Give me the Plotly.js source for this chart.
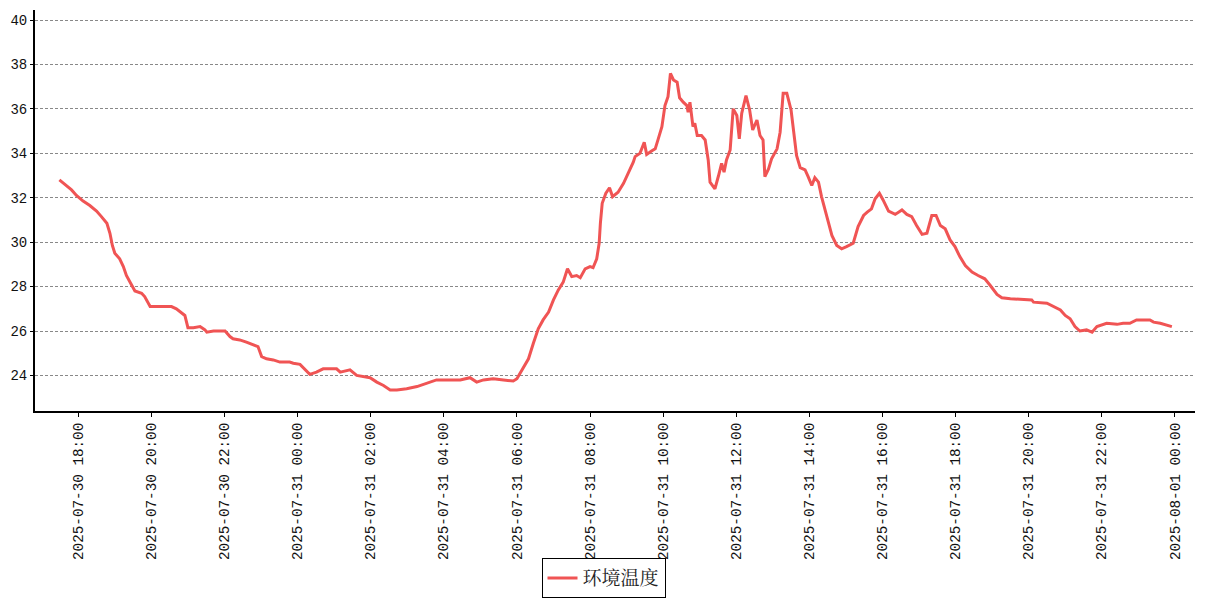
<!DOCTYPE html>
<html>
<head>
<meta charset="utf-8">
<script src="https://cdn.plot.ly/plotly-3.0.1.min.js"></script>
<style>
html,body{margin:0;padding:0;background:#fff;}
#chart{width:1207px;height:600px;}
</style>
</head>
<body>
<div id="chart"></div>
<script>
const seriesName = '环境温度';
const times = [
'2025-07-30 17:29','2025-07-30 17:38','2025-07-30 17:49','2025-07-30 17:57','2025-07-30 18:08','2025-07-30 18:19','2025-07-30 18:30','2025-07-30 18:38','2025-07-30 18:47','2025-07-30 18:52',
'2025-07-30 18:56','2025-07-30 19:00','2025-07-30 19:08','2025-07-30 19:14','2025-07-30 19:19','2025-07-30 19:26','2025-07-30 19:33','2025-07-30 19:44','2025-07-30 19:49','2025-07-30 19:58',
'2025-07-30 20:14','2025-07-30 20:33','2025-07-30 20:41','2025-07-30 20:50','2025-07-30 20:55','2025-07-30 21:00','2025-07-30 21:09','2025-07-30 21:20','2025-07-30 21:28','2025-07-30 21:31',
'2025-07-30 21:42','2025-07-30 22:01','2025-07-30 22:09','2025-07-30 22:14','2025-07-30 22:25','2025-07-30 22:36','2025-07-30 22:47','2025-07-30 22:55','2025-07-30 23:01','2025-07-30 23:09',
'2025-07-30 23:20','2025-07-30 23:31','2025-07-30 23:47','2025-07-30 23:53','2025-07-31 00:04','2025-07-31 00:12','2025-07-31 00:20','2025-07-31 00:31','2025-07-31 00:42','2025-07-31 01:04',
'2025-07-31 01:10','2025-07-31 01:26','2025-07-31 01:37','2025-07-31 01:59','2025-07-31 02:10','2025-07-31 02:21','2025-07-31 02:32','2025-07-31 02:43','2025-07-31 02:59','2025-07-31 03:16',
'2025-07-31 03:32','2025-07-31 03:48','2025-07-31 04:10','2025-07-31 04:27','2025-07-31 04:43','2025-07-31 04:54','2025-07-31 05:05','2025-07-31 05:21','2025-07-31 05:38','2025-07-31 05:54',
'2025-07-31 06:00','2025-07-31 06:08','2025-07-31 06:19','2025-07-31 06:27','2025-07-31 06:35','2025-07-31 06:43','2025-07-31 06:52','2025-07-31 07:00','2025-07-31 07:08','2025-07-31 07:16',
'2025-07-31 07:23','2025-07-31 07:30','2025-07-31 07:38','2025-07-31 07:44','2025-07-31 07:52','2025-07-31 08:00','2025-07-31 08:05','2025-07-31 08:11','2025-07-31 08:15','2025-07-31 08:17',
'2025-07-31 08:20','2025-07-31 08:26','2025-07-31 08:32','2025-07-31 08:37','2025-07-31 08:46','2025-07-31 08:55','2025-07-31 09:03','2025-07-31 09:11','2025-07-31 09:14','2025-07-31 09:22',
'2025-07-31 09:29','2025-07-31 09:33','2025-07-31 09:41','2025-07-31 09:47','2025-07-31 09:52','2025-07-31 09:58','2025-07-31 10:03','2025-07-31 10:08','2025-07-31 10:12','2025-07-31 10:17',
'2025-07-31 10:23','2025-07-31 10:27','2025-07-31 10:33','2025-07-31 10:39','2025-07-31 10:41','2025-07-31 10:44','2025-07-31 10:49','2025-07-31 10:52','2025-07-31 10:56','2025-07-31 11:03',
'2025-07-31 11:09','2025-07-31 11:14','2025-07-31 11:17','2025-07-31 11:25','2025-07-31 11:31','2025-07-31 11:36','2025-07-31 11:40','2025-07-31 11:44','2025-07-31 11:50','2025-07-31 11:55',
'2025-07-31 12:01','2025-07-31 12:05','2025-07-31 12:09','2025-07-31 12:16','2025-07-31 12:22','2025-07-31 12:27','2025-07-31 12:34','2025-07-31 12:39','2025-07-31 12:44','2025-07-31 12:47',
'2025-07-31 12:53','2025-07-31 12:58','2025-07-31 13:07','2025-07-31 13:12','2025-07-31 13:17','2025-07-31 13:23','2025-07-31 13:30','2025-07-31 13:34','2025-07-31 13:39','2025-07-31 13:45',
'2025-07-31 13:53','2025-07-31 13:58','2025-07-31 14:04','2025-07-31 14:09','2025-07-31 14:15','2025-07-31 14:20','2025-07-31 14:29','2025-07-31 14:37','2025-07-31 14:45','2025-07-31 14:53',
'2025-07-31 15:01','2025-07-31 15:12','2025-07-31 15:20','2025-07-31 15:29','2025-07-31 15:35','2025-07-31 15:42','2025-07-31 15:48','2025-07-31 15:55','2025-07-31 16:01','2025-07-31 16:10',
'2025-07-31 16:21','2025-07-31 16:32','2025-07-31 16:40','2025-07-31 16:48','2025-07-31 16:56','2025-07-31 17:05','2025-07-31 17:13','2025-07-31 17:21','2025-07-31 17:28','2025-07-31 17:35',
'2025-07-31 17:43','2025-07-31 17:51','2025-07-31 17:59','2025-07-31 18:07','2025-07-31 18:16','2025-07-31 18:27','2025-07-31 18:37','2025-07-31 18:48','2025-07-31 18:57','2025-07-31 19:08',
'2025-07-31 19:16','2025-07-31 19:30','2025-07-31 20:05','2025-07-31 20:08','2025-07-31 20:30','2025-07-31 20:41','2025-07-31 20:52','2025-07-31 21:00','2025-07-31 21:08','2025-07-31 21:16',
'2025-07-31 21:24','2025-07-31 21:35','2025-07-31 21:44','2025-07-31 21:52','2025-07-31 22:08','2025-07-31 22:25','2025-07-31 22:35','2025-07-31 22:46','2025-07-31 22:57','2025-07-31 23:19',
'2025-07-31 23:25','2025-07-31 23:36','2025-07-31 23:47','2025-07-31 23:55'
];
const temps = [
32.8,32.6,32.35,32.1,31.85,31.65,31.4,31.15,30.85,30.4,
29.85,29.5,29.25,28.9,28.5,28.15,27.8,27.7,27.55,27.1,
27.1,27.1,27.0,26.8,26.7,26.15,26.15,26.2,26.05,25.95,
26.0,26.0,25.75,25.65,25.6,25.5,25.4,25.3,24.85,24.75,
24.7,24.6,24.6,24.55,24.5,24.25,24.05,24.15,24.3,24.3,
24.15,24.25,24.0,23.9,23.7,23.55,23.35,23.35,23.4,23.5,
23.65,23.8,23.8,23.8,23.9,23.7,23.8,23.85,23.8,23.75,
23.85,24.25,24.75,25.45,26.1,26.5,26.85,27.4,27.85,28.2,
28.8,28.45,28.5,28.4,28.8,28.9,28.85,29.25,29.95,30.85,
31.75,32.2,32.45,32.05,32.25,32.65,33.1,33.6,33.85,34.0,
34.5,33.95,34.1,34.2,34.65,35.2,36.15,36.55,37.6,37.3,
37.2,36.5,36.3,36.15,35.85,36.3,35.2,35.35,34.8,34.8,
34.6,33.7,32.7,32.4,33.0,33.55,33.15,33.7,34.15,36.0,
35.7,34.65,35.8,36.6,35.95,35.05,35.5,34.8,34.6,32.95,
33.3,33.75,34.2,34.95,36.7,36.7,35.95,35.1,33.9,33.35,
33.25,32.95,32.55,32.9,32.7,32.05,31.15,30.3,29.85,29.7,
29.8,29.95,30.7,31.2,31.35,31.5,31.95,32.2,31.9,31.4,
31.25,31.45,31.25,31.15,30.75,30.35,30.4,31.2,31.2,30.75,
30.6,30.1,29.8,29.35,28.95,28.65,28.5,28.35,28.05,27.65,
27.5,27.45,27.4,27.3,27.25,27.1,26.95,26.7,26.55,26.2,
26.0,26.05,25.95,26.2,26.35,26.3,26.35,26.35,26.5,26.5,
26.4,26.35,26.25,26.2
];

const monoFamily = '"Liberation Mono", "DejaVu Sans Mono", monospace';

const trace = {
  x: times, y: temps, type: 'scatter', mode: 'lines', name: seriesName,
  line: {color: '#F05454', width: 3}
};

const layout = {
  width: 1207, height: 600,
  paper_bgcolor: '#fff', plot_bgcolor: '#fff',
  margin: {l: 35, r: 12, t: 10, b: 189},
  showlegend: true,
  legend: {
    orientation: 'h', xref: 'container', yref: 'container',
    x: 0.5, xanchor: 'center', y: 0.003, yanchor: 'bottom',
    bordercolor: '#000', borderwidth: 1, bgcolor: 'rgba(255,255,255,0)',
    font: {family: '"Noto Serif CJK SC", "Noto Sans CJK SC", serif', size: 19, color: '#222'},
    itemwidth: 30
  },
  xaxis: {
    type: 'date',
    range: ['2025-07-30 16:49', '2025-08-01 00:33'],
    tick0: '2025-07-30 18:00', dtick: 7200000,
    tickformat: '%Y-%m-%d\u00a0%H:%M',
    tickangle: -90,
    showgrid: false, zeroline: false,
    showline: true, linecolor: '#000', linewidth: 2,
    ticks: 'outside', ticklen: 4, tickcolor: '#000', tickwidth: 1,
    tickfont: {family: monoFamily, size: 14.3, color: '#111'}
  },
  yaxis: {
    range: [22.4, 40.45],
    tick0: 24, dtick: 2,
    showgrid: true, gridcolor: '#888', gridwidth: 1, griddash: '3px,2px',
    zeroline: false,
    showline: true, linecolor: '#000', linewidth: 2,
    ticks: 'outside', ticklen: 3, tickcolor: '#000', tickwidth: 1,
    tickfont: {family: monoFamily, size: 14, color: '#111'}
  }
};

Plotly.newPlot('chart', [trace], layout, {displayModeBar: false, staticPlot: true});
</script>
</body>
</html>
